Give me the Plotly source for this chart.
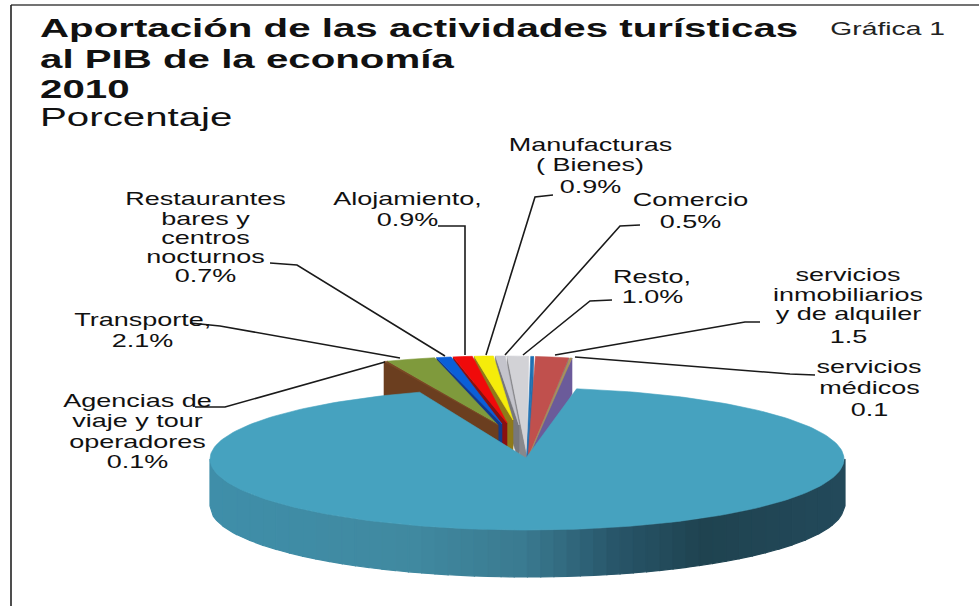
import math
import plotly.graph_objects as go

# ---- data ----
slice_names = ["Agencias de viaje y tour operadores", "Transporte", "Restaurantes bares y centros nocturnos",
               "Alojamiento", "Manufacturas (Bienes)", "Comercio", "Resto", "Otros",
               "Servicios inmobiliarios y de alquiler", "Servicios médicos"]
slice_values = [0.1, 2.1, 0.7, 0.9, 0.9, 0.5, 1.0, 0.2, 1.5, 0.1]
main_name = "Resto de la economía"
main_value = 92.0

# ---- style ----
top_colors = ["#7a4a25", "#7f9a3c", "#0a5fd8", "#f00a0a", "#f5ec0a", "#c4c4cc", "#d2d2d6", "#1f6fb0", "#c0504d", "#a8925a"]
wall_colors = ["#6b3e1f", "#6b3e1f", "#123a8c", "#8a1010", "#8f7a1a", "#77777c", "#88888c", "#1f6fb0", "#6b5b9a", "#6b5b9a"]
main_color = "#46a2bf"
grad_stops = [(210, (63, 142, 169)), (413, (64, 137, 160)), (525, (58, 122, 144)),
              (614, (40, 86, 106)), (703, (31, 67, 80)), (845, (35, 73, 90))]
FONT = "Liberation Sans"

cx, cy, rx, ry = 527.0, 459.0, 317.0, 71.0
apex_main = (526.0, 458.0)
# where each small slice's top face converges (the slices sit pulled back from the centre)
wedge_tips = [(498, 425), (498, 425), (502, 424), (507, 423), (513, 420),
              (519, 425), (527, 455), (527, 455), (528, 458), (528, 458)]
depth_main, depth_wedge = 47.0, 36.0
rotation = -19.8
px_per_pct = 23.5
wedge_left = 384.0


def ell(theta_deg):
    t = math.radians(theta_deg)
    return cx + rx * math.sin(t), cy - ry * math.cos(t)


def arc_y(x):
    return 356.0 + 8.0 * ((x - 500.0) / 140.0) ** 2


def poly(fig, pts, color, line=None):
    xs = [p[0] for p in pts] + [pts[0][0]]
    ys = [p[1] for p in pts] + [pts[0][1]]
    fig.add_trace(go.Scatter(x=xs, y=ys, mode="lines", fill="toself", fillcolor=color,
                             line=dict(width=0.6 if line is None else line, color=color),
                             hoverinfo="skip", showlegend=False))


def grad(x):
    for (x0, c0), (x1, c1) in zip(grad_stops, grad_stops[1:]):
        if x <= x1:
            f = (x - x0) / (x1 - x0)
            return "rgb(%d,%d,%d)" % tuple(round(a + (b - a) * f) for a, b in zip(c0, c1))
    return "rgb(%d,%d,%d)" % grad_stops[-1][1]


fig = go.Figure()

edges = [wedge_left]
for v in slice_values:
    edges.append(edges[-1] + v * px_per_pct)

order_left = [i for i in range(len(slice_values)) if edges[i + 1] <= 531]
order_right = [i for i in range(len(slice_values)) if edges[i + 1] > 531]


def draw_wedge(i, side):
    xl, xr = edges[i] + 1.0, edges[i + 1] - 1.0
    if slice_values[i] < 0.15:
        xl, xr = edges[i], edges[i + 1]
    tip = wedge_tips[i]
    ex = xl if side == "left" else xr
    P = (ex, arc_y(ex))
    poly(fig, [P, tip, (tip[0], tip[1] + depth_wedge), (P[0], P[1] + depth_wedge)], wall_colors[i])
    poly(fig, [tip, (xl, arc_y(xl)), ((xl + xr) / 2, arc_y((xl + xr) / 2)), (xr, arc_y(xr))], top_colors[i])


for i in reversed(order_left):
    draw_wedge(i, "left")
for i in order_right:
    draw_wedge(i, "right")

n = 48
for k in range(n):
    x0 = 210 + (845 - 210) * k / n
    x1 = 210 + (845 - 210) * (k + 1) / n
    pts_top = []
    for j in range(5):
        x = x0 + (x1 - x0) * j / 4
        u = max(-1.0, min(1.0, (x - cx) / rx))
        pts_top.append((x, cy + ry * math.sqrt(1 - u * u)))
    pts = pts_top + [(p[0], p[1] + depth_main) for p in reversed(pts_top)]
    poly(fig, pts, grad((x0 + x1) / 2), line=1.2)

theta_start = rotation + 360.0 * sum(slice_values) / 100.0
theta_span = 360.0 * main_value / 100.0
arc = [ell(theta_start + theta_span * j / 240) for j in range(241)]
poly(fig, [apex_main] + arc, main_color)

leaders = [
    [(553, 195), (535, 197), (486, 355)],
    [(640, 225), (620, 226), (505, 355)],
    [(438, 226), (465, 226), (465, 355)],
    [(270, 263), (297, 265), (445, 356)],
    [(612, 300), (590, 301), (523, 355)],
    [(760, 322), (745, 322), (555, 355)],
    [(190, 323), (220, 326), (400, 358)],
    [(815, 375), (790, 374), (575, 357)],
    [(195, 407), (225, 407), (385, 362)],
]
for pts in leaders:
    fig.add_trace(go.Scatter(x=[p[0] for p in pts], y=[p[1] for p in pts], mode="lines",
                             line=dict(color="#1a1a1a", width=1.6), hoverinfo="skip", showlegend=False))

label_lines = [
    ("Manufacturas", 590, 145), ("( Bienes)", 590, 165), ("0.9%", 590, 187),
    ("Comercio", 690, 200), ("0.5%", 690, 222),
    ("Alojamiento,", 407, 199), ("0.9%", 407, 220),
    ("Restaurantes", 205, 199), ("bares y", 205, 219), ("centros", 205, 238), ("nocturnos", 205, 257), ("0.7%", 205, 276),
    ("Resto,", 652, 277), ("1.0%", 652, 297),
    ("servicios", 848, 275), ("inmobiliarios", 848, 295), ("y de alquiler", 848, 314), ("1.5", 848, 337),
    ("Transporte,", 142, 320), ("2.1%", 142, 341),
    ("servicios", 869, 367), ("médicos", 869, 388), ("0.1", 869, 410),
    ("Agencias de", 137, 401), ("viaje y tour", 137, 421), ("operadores", 137, 442), ("0.1%", 137, 462),
]
annotations = [dict(text=t, x=x, y=y, xref="x", yref="y", showarrow=False, align="center",
                    font=dict(family=FONT, size=18, color="#111")) for t, x, y in label_lines]
for txt, yy in [("<b>Aportación de las actividades turísticas</b>", 28), ("<b>al PIB de la economía</b>", 59),
                ("<b>2010</b>", 89), ("Porcentaje", 117)]:
    annotations.append(dict(text=txt, x=38, y=yy, xref="x", yref="y", xanchor="left", showarrow=False,
                            font=dict(family=FONT, size=25, color="#111")))
annotations.append(dict(text="Gráfica 1", x=947, y=29, xref="x", yref="y", xanchor="right", showarrow=False,
                        font=dict(family=FONT, size=18, color="#222")))

fig.update_layout(
    width=979, height=606, autosize=False,
    margin=dict(l=0, r=0, t=0, b=0),
    paper_bgcolor="white", plot_bgcolor="white",
    xaxis=dict(range=[0, 979], visible=False, fixedrange=True),
    yaxis=dict(range=[606, 0], visible=False, fixedrange=True),
    annotations=annotations,
    shapes=[
        dict(type="line", x0=11, x1=979, y0=5, y1=5, line=dict(color="#444", width=1.6)),
        dict(type="line", x0=11, x1=11, y0=5, y1=606, line=dict(color="#222", width=1.6)),
    ],
)

# the reference's lettering is stretched horizontally; widen each text about its own anchor
n_labels = len(label_lines)
post = """
document.body.style.margin = '0';
document.body.style.overflow = 'hidden';
document.querySelectorAll('.annotation').forEach(function(a){
  var i = +a.getAttribute('data-index');
  var t = a.querySelector('text');
  if(!t) return;
  var origin = i < %d ? 'center' : (i < %d ? 'left' : 'right');
  var f = i < %d ? 1.5 : (i < %d ? 1.61 : 1.57);
  t.style.transformBox = 'fill-box';
  t.style.transformOrigin = origin + ' center';
  t.style.transform = 'scaleX(' + f + ')';
});
""" % (n_labels, n_labels + 4, n_labels, n_labels + 4)
fig.write_html("out.html", config={"displayModeBar": False}, post_script=post)
